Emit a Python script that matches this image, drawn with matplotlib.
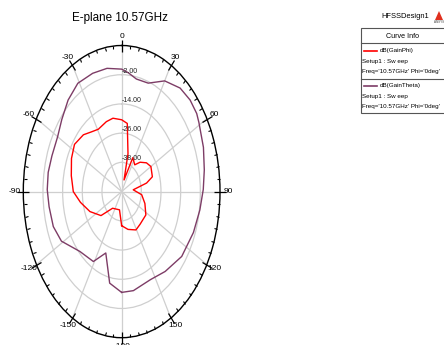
import numpy as np
import matplotlib
matplotlib.use("Agg")
import matplotlib.pyplot as plt
from matplotlib import font_manager
from matplotlib.patches import Rectangle, Polygon
from matplotlib.lines import Line2D

# narrow sans if we have it, plain Liberation Sans otherwise
names = {f.name for f in font_manager.fontManager.ttflist}
FONT = "Liberation Sans Narrow" if "Liberation Sans Narrow" in names else "Liberation Sans"
NARROW = FONT == "Liberation Sans Narrow"
plt.rcParams["font.family"] = FONT

# E-plane cut at 10.57 GHz, angle in deg (0 = broadside, clockwise positive)
theta_phi = [-180, -170, -141, -128, -113, -100, -90, -78, -66, -56, -45, -37,
             -29, -18, -10, 0, 7, 14, 17, 26, 36, 43, 52, 60, 72, 77, 84, 96,
             109, 123, 140, 151, 166, 180]
gain_phi = [-36.0, -42.4, -41.2, -34.0, -29.0, -24.5, -20.5, -18.6, -16.5, -15.3,
            -17.0, -19.3, -20.7, -19.8, -19.4, -20.5, -21.8, -34.0, -45.0, -34.5,
            -36.4, -33.5, -30.8, -29.4, -30.3, -34.4, -42.9, -37.7, -35.0, -32.4,
            -32.5, -32.0, -34.0, -36.0]

theta_theta = [-180, -169, -159, -149, -134, -119, -109, -98, -89, -80, -71, -60,
               -51, -41, -31, -20, -10, 0, 5, 11, 20, 30, 40, 48, 55, 59, 70, 80,
               89, 99, 111, 126, 141, 154, 170, 180]
gain_theta = [-8.6, -11.7, -23.0, -16.5, -14.6, -8.0, -5.9, -5.3, -4.6, -4.5, -5.0,
              -4.9, -3.0, -0.2, 1.9, 1.7, 1.4, 0.3, -1.1, -2.9, -2.6, 2.5, 5.5, 6.2,
              5.9, 5.0, 3.1, 1.2, -0.2, -1.7, -3.1, -4.7, -7.8, -9.8, -8.7, -8.6]

r_ticks = [-38, -26, -14, -2]
r_min, r_max = -50, 10
ang_ticks = list(range(0, 360, 30))
ang_labels = ["0", "30", "60", "90", "120", "150", "-180", "-150", "-120", "-90", "-60", "-30"]

RED = "#ff0000"
PURPLE = "#7d3c66"
GRID = "#cfcfcf"

W, H = 444, 345
fig = plt.figure(figsize=(W / 100, H / 100), dpi=100)


def px(x, y):
    return x / W, 1 - y / H


ax = fig.add_axes([23.3 / W, 1 - 337.7 / H, 196.7 / W, 292.2 / H], projection="polar")
ax.set_aspect("auto")
ax.set_theta_zero_location("N")
ax.set_theta_direction(-1)
ax.set_ylim(r_min, r_max)

ax.plot(np.deg2rad(theta_phi), gain_phi, color=RED, lw=1.0)
ax.plot(np.deg2rad(theta_theta), gain_theta, color=PURPLE, lw=1.0)

ax.set_yticks(r_ticks)
ax.set_yticklabels([])
ax.set_thetagrids(ang_ticks, ang_labels)
ax.set_xticks(np.deg2rad(np.arange(0, 360, 5)), minor=True)
ax.grid(True, which="major", color=GRID, lw=0.9)
ax.grid(False, which="minor")
# ticks on the outer rim only (tick2 side of the theta axis)
ax.tick_params(axis="x", which="both", tick1On=False, tick2On=True)
ax.tick_params(axis="x", which="major", direction="inout", length=4.5, width=0.9,
               pad=-3, labelsize=6.7 if NARROW else 6.0, colors="black")
ax.tick_params(axis="x", which="minor", direction="in", length=2.5, width=0.8,
               colors="black")
ax.spines["polar"].set_color("black")
ax.spines["polar"].set_linewidth(1.0)

rl_size = 6.0 if NARROW else 5.0
for r in r_ticks:
    ax.text(0, r, "%.2f" % r, ha="left", va="bottom", fontsize=rl_size,
            color="#222222")

fig.text(*px(120, 18), "E-plane 10.57GHz", ha="center", va="center",
         fontsize=9.5 if NARROW else 8.4)

# curve info box
fs = 5.3 if NARROW else 4.5
fig.text(*px(405, 17), "HFSSDesign1", ha="center", va="center", fontsize=6.4 if NARROW else 5.4)
fig.patches.append(Polygon([px(435, 20), px(439, 11), px(443, 20)], closed=True,
                           transform=fig.transFigure, facecolor="#e0301e", edgecolor="none"))
fig.text(*px(439, 22), "ANSYS", ha="center", va="center", fontsize=2.2, color="#444444")

x0, y0 = px(360.5, 113)
x1, y1 = px(452, 28.3)
fig.patches.append(Rectangle((x0, y0), x1 - x0, y1 - y0, transform=fig.transFigure,
                             facecolor="white", edgecolor="#555555", lw=0.8))
for yy in (42.7, 79):
    fig.lines.append(Line2D([px(360.5, yy)[0], px(452, yy)[0]], [px(0, yy)[1]] * 2,
                            transform=fig.transFigure, color="#555555", lw=0.8))
fig.text(*px(402, 36), "Curve Info", ha="center", va="center", fontsize=fs + 0.6)

rows = [(50.7, RED, "dB(GainPhi)"), (86, PURPLE, "dB(GainTheta)")]
for yy, c, name in rows:
    fig.lines.append(Line2D([px(363.5, yy)[0], px(376.5, yy)[0]], [px(0, yy)[1]] * 2,
                            transform=fig.transFigure, color=c, lw=1.2))
    fig.text(*px(380, yy), name, ha="left", va="center", fontsize=fs)
    fig.text(*px(362, yy + 10.3), "Setup1 : Sw eep", ha="left", va="center", fontsize=fs)
    fig.text(*px(362, yy + 20.3), "Freq='10.57GHz' Phi='0deg'", ha="left", va="center",
             fontsize=fs)

fig.savefig("out.png", dpi=100)
